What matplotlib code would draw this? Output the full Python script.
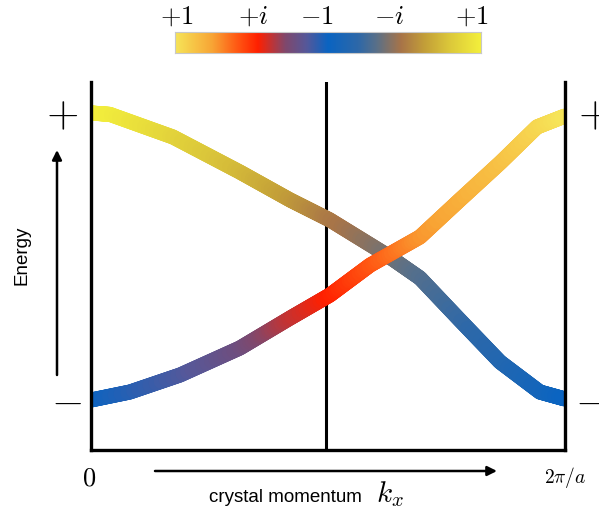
import numpy as np
import matplotlib
matplotlib.use("Agg")
import matplotlib.pyplot as plt
from matplotlib.collections import LineCollection
from matplotlib.colors import LinearSegmentedColormap

plt.rcParams['mathtext.fontset'] = 'cm'

# ---- data (k in units of 2*pi/a, energy normalised to +/-1) ----
band1_k = [0.0, 0.04, 0.173, 0.314, 0.420, 0.504, 0.624, 0.694, 0.778, 0.863, 0.947, 1.0]
band1_E = [1.0, 0.99, 0.833, 0.590, 0.396, 0.257, 0.014, -0.146, -0.4375, -0.729, -0.9375, -0.986]
band1_phase = [1.0, 0.99, 0.93, 0.87, 0.81, 0.75, 0.69, 0.65, 0.61, 0.57, 0.53, 0.5]
band2_k = [0.0, 0.082, 0.188, 0.314, 0.420, 0.504, 0.589, 0.694, 0.778, 0.863, 0.941, 1.0]
band2_E = [-0.993, -0.9375, -0.819, -0.632, -0.424, -0.264, -0.056, 0.139, 0.396, 0.653, 0.903, 0.979]
band2_phase = [0.5, 0.475, 0.44, 0.39, 0.315, 0.27, 0.21, 0.14, 0.105, 0.07, 0.03, 0.0]
phase_labels = ['$+1$', '$+i$', '$-1$', '$-i$', '$+1$']
energy_labels = ['$+$', '$-$']

W, H = 599, 511
fig = plt.figure(figsize=(W / 100, H / 100), dpi=100)

def fx(x):
    return x / W

def fy(y):
    return 1 - y / H

cmap = LinearSegmentedColormap.from_list('phase', [
    (0.00, '#f6e458'), (0.12, '#f8a535'), (0.20, '#ff5a14'), (0.27, '#ff2000'),
    (0.36, '#80486c'), (0.43, '#55589a'), (0.50, '#0a64c2'), (0.60, '#2e68a8'),
    (0.66, '#5a7088'), (0.74, '#a87448'), (0.82, '#c4a038'), (0.90, '#dcc83a'),
    (1.00, '#f3ef3c')])

# main axes
ax = fig.add_axes([fx(91), fy(450), fx(565) - fx(91), fy(82) - fy(450)])
ax.set_xlim(0, 1)
ax.set_ylim(-1.340, 1.215)
ax.spines['top'].set_visible(False)
for s in ['left', 'right', 'bottom']:
    ax.spines[s].set_linewidth(2.4)
    ax.spines[s].set_color('black')
ax.set_xticks([])
ax.set_yticks([])
ax.axvline(0.496, color='black', lw=2.2, zorder=1)

def draw_band(k, E, phase):
    k = np.asarray(k, float)
    E = np.asarray(E, float)
    p = np.asarray(phase, float)
    pts, cols = [], []
    for i in range(len(k) - 1):
        t = np.linspace(0, 1, 40, endpoint=False)
        pts.append(np.column_stack([k[i] + (k[i + 1] - k[i]) * t, E[i] + (E[i + 1] - E[i]) * t]))
        cols.append(p[i] + (p[i + 1] - p[i]) * (t + 0.5 / 40))
    pts.append(np.array([[k[-1], E[-1]]]))
    pts = np.vstack(pts)
    c = np.concatenate(cols)
    segs = np.stack([pts[:-1], pts[1:]], axis=1)
    lc = LineCollection(segs, colors=cmap(c), linewidths=10.8, capstyle='round',
                        joinstyle='round', zorder=2)
    ax.add_collection(lc)

draw_band(band1_k, band1_E, band1_phase)
draw_band(band2_k, band2_E, band2_phase)

# colour bar
cax = fig.add_axes([fx(175), fy(53), fx(481) - fx(175), fy(32) - fy(53)])
cax.imshow(np.linspace(0, 1, 512)[None, :], aspect='auto', cmap=cmap, extent=[0, 1, 0, 1])
cax.set_xticks([])
cax.set_yticks([])
for s in cax.spines.values():
    s.set_color('#c8c8c8')
    s.set_linewidth(0.8)
for xpos, lab in zip([177, 253, 317, 389, 472], phase_labels):
    fig.text(fx(xpos), fy(17), lab, ha='center', va='center', fontsize=19)

# energy markers (right ones are cut by the edge, as in the original)
fig.text(fx(62), fy(114), energy_labels[0], ha='center', va='center', fontsize=30)
fig.text(fx(66), fy(401), energy_labels[1], ha='center', va='center', fontsize=30)
fig.text(fx(594), fy(114), energy_labels[0], ha='center', va='center', fontsize=30)
fig.text(fx(590), fy(401), energy_labels[1], ha='center', va='center', fontsize=30)

# axis annotations
fig.text(fx(22), fy(255), 'Energy', rotation=90, ha='center', va='center',
         fontsize=13.5, family='Liberation Sans')
fig.text(fx(285), fy(497), 'crystal momentum', ha='center', va='center',
         fontsize=13.5, family='Liberation Sans')
fig.text(fx(390), fy(494), '$k_x$', ha='center', va='center', fontsize=21)
fig.text(fx(89), fy(478), '$0$', ha='center', va='center', fontsize=19)
fig.text(fx(565), fy(477), r'$2\pi/a$', ha='center', va='center', fontsize=14)

arrow_kw = dict(arrowstyle='-|>', color='black', lw=1.8, mutation_scale=14,
                shrinkA=0, shrinkB=0)
fig.add_artist(matplotlib.patches.FancyArrowPatch((fx(57), fy(375)), (fx(57), fy(150)),
                                                  transform=fig.transFigure, **arrow_kw))
fig.add_artist(matplotlib.patches.FancyArrowPatch((fx(155), fy(471)), (fx(497), fy(471)),
                                                  transform=fig.transFigure, **arrow_kw))

fig.savefig('out.png', dpi=100)
